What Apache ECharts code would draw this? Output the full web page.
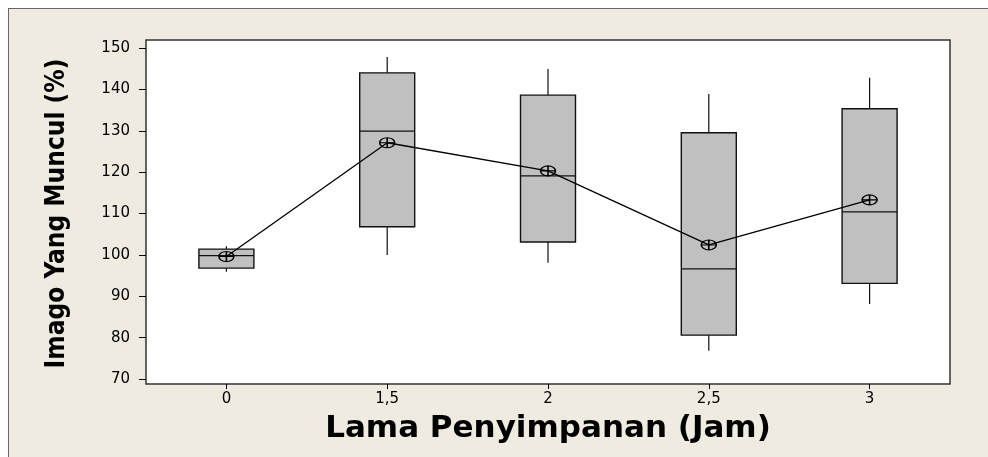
<!DOCTYPE html>
<html>
<head>
<meta charset="utf-8">
<script src="https://cdn.jsdelivr.net/npm/echarts@6/dist/echarts.min.js"></script>
<style>
  html, body { margin: 0; padding: 0; background: #ffffff; }
  #bg { position: absolute; left: 8px; top: 8px; width: 990px; height: 460px;
        background: #efebe0; border-left: 1px solid #666; border-top: 1px solid #666; }
  #chart { position: absolute; left: 0; top: 0; width: 988px; height: 457px; }
</style>
</head>
<body>
<div id="bg"></div>
<div id="chart"></div>
<script>
// ---- data ----
const categories = ['0', '1,5', '2', '2,5', '3'];
const whiskerLow  = [95.9, 100.0, 98.1, 76.8, 88.1];
const q1          = [96.8, 106.8, 103.1, 80.6, 93.1];
const median      = [99.8, 129.9, 119.1, 96.6, 110.4];
const q3          = [101.4, 144.0, 138.6, 129.5, 135.3];
const whiskerHigh = [102.1, 147.8, 144.9, 138.9, 142.8];
const means       = [99.6, 127.1, 120.3, 102.4, 113.3];
const yTicks = { min: 70, max: 150, interval: 10 };

const boxData = categories.map((c, i) => [i, whiskerLow[i], q1[i], median[i], q3[i], whiskerHigh[i]]);

function renderBox(params, api) {
  const x = api.value(0);
  const lo = api.coord([x, api.value(1)]);
  const b1 = api.coord([x, api.value(2)]);
  const md = api.coord([x, api.value(3)]);
  const b3 = api.coord([x, api.value(4)]);
  const hi = api.coord([x, api.value(5)]);
  const w = api.size([1, 0])[0] * 0.342;
  const ls = { stroke: '#111', lineWidth: 1.2, fill: null };
  return {
    type: 'group',
    children: [
      { type: 'line', shape: { x1: lo[0], y1: lo[1], x2: b1[0], y2: b1[1] }, style: ls },
      { type: 'line', shape: { x1: b3[0], y1: b3[1], x2: hi[0], y2: hi[1] }, style: ls },
      { type: 'rect', shape: { x: b3[0] - w / 2, y: b3[1], width: w, height: b1[1] - b3[1] },
        style: { fill: '#c0c0c0', stroke: '#111', lineWidth: 1.4 } },
      { type: 'line', shape: { x1: md[0] - w / 2, y1: md[1], x2: md[0] + w / 2, y2: md[1] }, style: ls }
    ]
  };
}

const chart = echarts.init(document.getElementById('chart'), null, { renderer: 'canvas' });
const labelFont = { fontFamily: 'DejaVu Sans', fontSize: 15, color: '#000' };

chart.setOption({
  backgroundColor: 'transparent',
  animation: false,
  grid: [
    { left: 146, right: 38, top: 40, bottom: 73, show: true, backgroundColor: '#ffffff',
      borderColor: '#333', borderWidth: 1.5 },
    { left: 146, right: 38, top: 48, bottom: 78, show: false }
  ],
  xAxis: [
    { type: 'category', gridIndex: 0, data: categories, boundaryGap: true,
      axisLine: { show: false },
      axisTick: { show: true, alignWithLabel: true, length: 5, lineStyle: { color: '#000' } },
      axisLabel: Object.assign({ margin: 8 }, labelFont),
      splitLine: { show: false },
      name: 'Lama Penyimpanan (Jam)', nameLocation: 'middle', nameGap: 29,
      nameTextStyle: { fontFamily: 'DejaVu Sans', fontWeight: 'bold', fontSize: 31, color: '#000' } },
    { type: 'category', gridIndex: 1, data: categories, boundaryGap: true, show: false }
  ],
  yAxis: [
    { type: 'value', gridIndex: 0, min: 0, max: 1, show: false },
    { type: 'value', gridIndex: 1, min: yTicks.min, max: yTicks.max, interval: yTicks.interval,
      axisLine: { show: false },
      axisTick: { show: true, length: 7, lineStyle: { color: '#000' } },
      axisLabel: Object.assign({ margin: 16 }, labelFont),
      splitLine: { show: false },
      name: 'Imago Yang Muncul (%)', nameLocation: 'middle', nameGap: 76,
      nameTextStyle: { fontFamily: 'DejaVu Sans Condensed', fontWeight: 'bold', fontSize: 26, color: '#000' } }
  ],
  series: [
    { type: 'custom', xAxisIndex: 1, yAxisIndex: 1, data: boxData, renderItem: renderBox,
      encode: { x: 0, y: [1, 2, 3, 4, 5] }, z: 2 },
    { type: 'line', xAxisIndex: 1, yAxisIndex: 1, data: means, z: 3,
      lineStyle: { color: '#000', width: 1.3 },
      symbol: 'path://M0,-10 A10,10 0 1,1 0,10 A10,10 0 1,1 0,-10 Z M-10,0 L10,0 M0,-10 L0,10',
      symbolSize: [15, 10],
      itemStyle: { color: 'rgba(0,0,0,0)', borderColor: '#000', borderWidth: 1.3 } }
  ]
});
</script>
</body>
</html>
